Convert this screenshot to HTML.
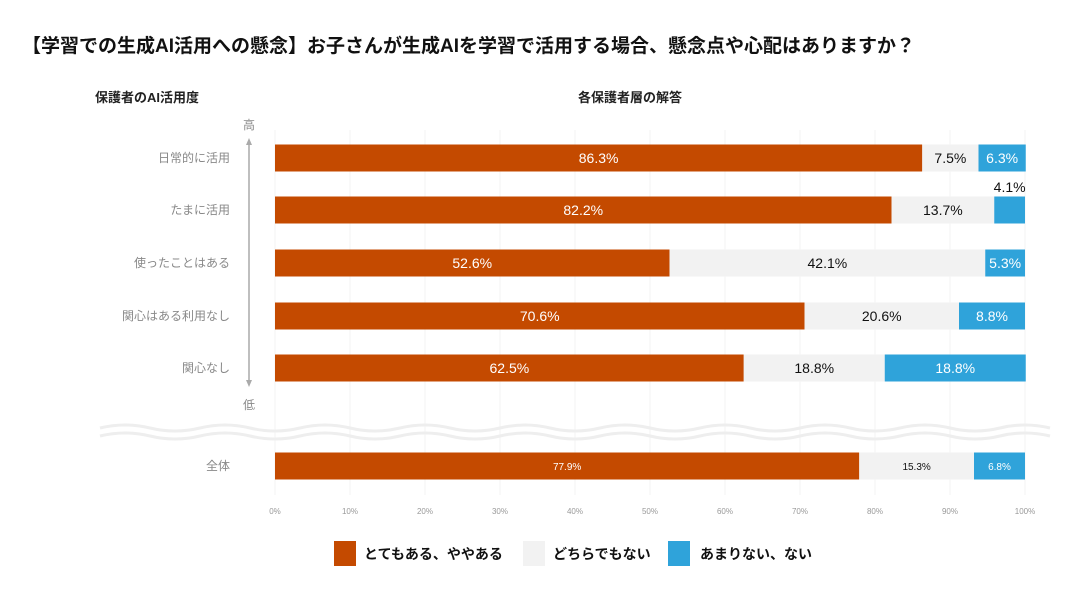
<!DOCTYPE html>
<html><head><meta charset="utf-8">
<style>
body{margin:0;background:#fff;width:1075px;height:596px;overflow:hidden;font-family:"Liberation Sans","Noto Sans CJK JP",sans-serif;}
svg text{font-family:"Liberation Sans","Noto Sans CJK JP",sans-serif;}
</style></head><body>
<svg id="chart" width="1075" height="596">
<text x="22" y="52" font-size="19" font-weight="bold" fill="#111">【学習での生成AI活用への懸念】お子さんが生成AIを学習で活用する場合、懸念点や心配はありますか？</text>
<text x="95" y="102" font-size="13" font-weight="bold" fill="#222">保護者のAI活用度</text>
<text x="630" y="102" font-size="13" font-weight="bold" fill="#222" text-anchor="middle">各保護者層の解答</text>
<g id="grid"></g>
<path d="M100,428 q25,-6 50,0 t50,0 t50,0 t50,0 t50,0 t50,0 t50,0 t50,0 t50,0 t50,0 t50,0 t50,0 t50,0 t50,0 t50,0 t50,0 t50,0 t50,0 t50,0" fill="none" stroke="#eee" stroke-width="3"/>
<path d="M100,436 q25,-6 50,0 t50,0 t50,0 t50,0 t50,0 t50,0 t50,0 t50,0 t50,0 t50,0 t50,0 t50,0 t50,0 t50,0 t50,0 t50,0 t50,0 t50,0 t50,0" fill="none" stroke="#eee" stroke-width="3"/>
<g>
<line x1="249" y1="142" x2="249" y2="383" stroke="#aaa" stroke-width="1.5"/>
<polygon points="249,138 246,145 252,145" fill="#aaa"/>
<polygon points="249,387 246,380 252,380" fill="#aaa"/>
</g>
<text x="249" y="129" font-size="12" fill="#888" text-anchor="middle">高</text>
<text x="249" y="409" font-size="12" fill="#888" text-anchor="middle">低</text>
<g id="bars"></g>
<g id="ticks"></g>
<g>
<rect x="334" y="541" width="22" height="25" fill="#c44a00"/>
<text x="364" y="559" font-size="14" font-weight="bold" fill="#111">とてもある、ややある</text>
<rect x="523" y="541" width="22" height="25" fill="#f2f2f2"/>
<text x="553" y="559" font-size="14" font-weight="bold" fill="#111">どちらでもない</text>
<rect x="668" y="541" width="22" height="25" fill="#2fa3da"/>
<text x="700" y="559" font-size="14" font-weight="bold" fill="#111">あまりない、ない</text>
</g>
</svg>
<script>
const categories=["日常的に活用","たまに活用","使ったことはある","関心はある利用なし","関心なし","全体"];
const concerned=[86.3,82.2,52.6,70.6,62.5,77.9];
const neutral=[7.5,13.7,42.1,20.6,18.8,15.3];
const notConcerned=[6.3,4.1,5.3,8.8,18.8,6.8];
const tickValues=[0,10,20,30,40,50,60,70,80,90,100];
const NS="http://www.w3.org/2000/svg";
const x0=275,x1=1025;
function xs(v){return x0+(x1-x0)*v/100;}
const rowY=[158,210,263,316,368,466];
const barH=27;
function mk(tag,attrs,parent){const e=document.createElementNS(NS,tag);for(const k in attrs)e.setAttribute(k,attrs[k]);parent.appendChild(e);return e;}
const grid=document.getElementById('grid'),bars=document.getElementById('bars'),ticks=document.getElementById('ticks');
tickValues.forEach(t=>{
 const l=mk('line',{x1:xs(t),x2:xs(t),y1:130,y2:495,stroke:'#f3f3f3','stroke-width':1},grid);
 
 
 const tx=mk('text',{x:xs(t),y:514,'font-size':8,fill:'#999','text-anchor':'middle'},ticks);
 tx.textContent=t+'%';
 
 
});
const series=[[concerned,'#c44a00','#fff','concerned'],[neutral,'#f2f2f2','#111','neutral'],[notConcerned,'#2fa3da','#fff','not-concerned']];
categories.forEach((c,i)=>{
 const cy=rowY[i];
 const small=i===5;
 const lab=mk('text',{x:230,y:cy+4,'font-size':12,fill:'#888','text-anchor':'end'},bars);
 lab.textContent=c;
 
 
 let acc=0;
 series.forEach(([arr,col,tc,nm])=>{
  const v=arr[i];
  const r=mk('rect',{x:xs(acc),y:cy-barH/2,width:xs(acc+v)-xs(acc),height:barH,fill:col},bars);
  
  
  const w=xs(acc+v)-xs(acc);
  let lx=xs(acc)+w/2,ly=cy+(small?4:5),fill=tc;
  if(w<36&&!small){ly=cy-18;fill='#111';}
  const t=mk('text',{x:lx,y:ly,'font-size':small?10:14,fill:fill,'text-anchor':'middle'},bars);
  t.textContent=v.toFixed(1)+'%';
  
  
  acc+=v;
 });
});
</script>
</body></html>
